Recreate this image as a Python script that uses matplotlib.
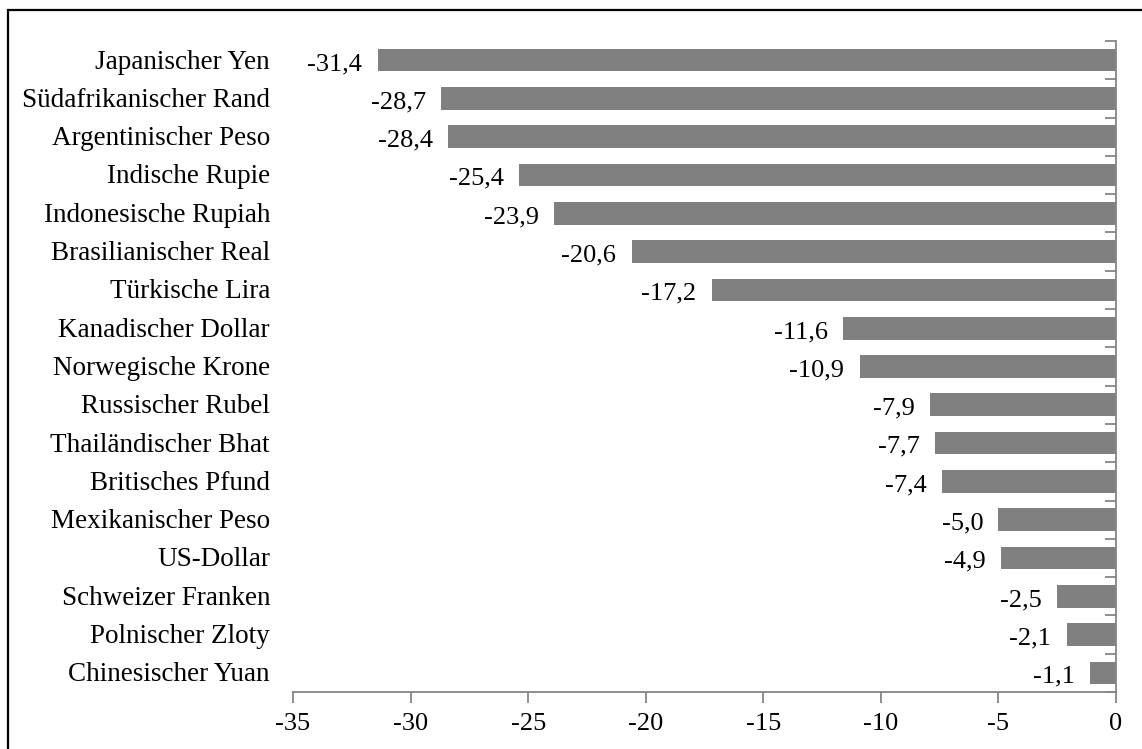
import matplotlib.pyplot as plt
from matplotlib.patches import Rectangle

# Währungen, von oben nach unten
waehrungen = ['Japanischer Yen', 'Südafrikanischer Rand', 'Argentinischer Peso',
              'Indische Rupie', 'Indonesische Rupiah', 'Brasilianischer Real',
              'Türkische Lira', 'Kanadischer Dollar', 'Norwegische Krone',
              'Russischer Rubel', 'Thailändischer Bhat', 'Britisches Pfund',
              'Mexikanischer Peso', 'US-Dollar', 'Schweizer Franken',
              'Polnischer Zloty', 'Chinesischer Yuan']
veraenderung = [-31.4, -28.7, -28.4, -25.4, -23.9, -20.6, -17.2, -11.6, -10.9,
                -7.9, -7.7, -7.4, -5.0, -4.9, -2.5, -2.1, -1.1]
x_ticks = [-35, -30, -25, -20, -15, -10, -5, 0]

plt.rcParams['font.family'] = ['Liberation Serif', 'DejaVu Serif']
fs = 19
achse = '#868686'

fig = plt.figure(figsize=(11.42, 7.49), dpi=100)
ax = fig.add_axes([293 / 1142, 57 / 749, (1116 - 293) / 1142, (692 - 41) / 749])

n = len(waehrungen)
pos = list(range(n))
ax.barh(pos, veraenderung, height=0.59, color='#808080', zorder=2)
ax.set_ylim(n - 0.5, -0.5)
ax.set_xlim(-35, 0)

# Werte links neben dem Balkenende
for p, v in zip(pos, veraenderung):
    ax.text(v - 0.65, p + 0.1, f'{v:.1f}'.replace('.', ','), ha='right',
            va='center', fontsize=fs)

# Kategorienamen etwas links von der Achse
x_name = -35 - 23 / 823 * 35
for name, p in zip(waehrungen, pos):
    ax.text(x_name, p + 0.05, name, ha='right', va='center', fontsize=19.5,
            clip_on=False)

ax.set_xticks(x_ticks)
ax.set_xticklabels([str(t) for t in x_ticks], fontsize=fs)
ax.tick_params(axis='x', direction='out', length=8, width=1.3, color=achse, pad=7)

# Trennstriche zwischen den Kategorien an der rechten Achse
ax.yaxis.tick_right()
ax.set_yticks([p - 0.5 for p in pos] + [n - 0.5])
ax.set_yticklabels([])
ax.tick_params(axis='y', direction='in', length=8, width=1.3, color=achse)

for s in ['top', 'left']:
    ax.spines[s].set_visible(False)
for s in ['bottom', 'right']:
    ax.spines[s].set_color(achse)
    ax.spines[s].set_linewidth(1.3)

# Rahmen um die Grafik
fig.patches.append(Rectangle((8 / 1142, -0.1), 1.2, 0.1 + (749 - 10) / 749,
                             transform=fig.transFigure, fill=False,
                             edgecolor='black', linewidth=1.6))

fig.savefig('out.png', dpi=100)
